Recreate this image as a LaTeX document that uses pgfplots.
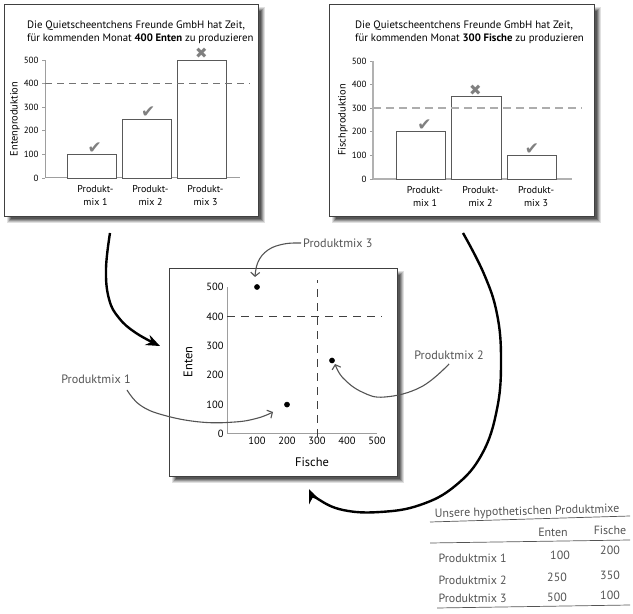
\documentclass[border=0pt]{standalone}
\usepackage{fontspec}
\setmainfont{PT Sans}
\newfontfamily\sym{DejaVu Sans}
\newfontfamily\hand{PT Sans}
\usepackage{pgfplots}
\pgfplotsset{compat=1.18}
\usetikzlibrary{arrows.meta}
\definecolor{axgray}{gray}{0.62}
\definecolor{bargray}{gray}{0.35}
\definecolor{dashgray}{gray}{0.45}
\definecolor{markgray}{gray}{0.5}
\definecolor{handgray}{gray}{0.33}
\definecolor{framegray}{gray}{0.25}

\newcommand\shadowframe[4]{%
  \foreach \d/\o in {-2/0.12,-1/0.15,0/0.2,1/0.25,2/0.25}{%
    \fill[black,opacity=\o] (#1+5+\d,#4-5+\d) rectangle (#3+5-\d,#2-5-\d);}
  \fill[white] (#1,#4) rectangle (#3,#2);
  \draw[framegray,line width=0.8bp] (#1,#4) rectangle (#3,#2);
}

\pgfplotsset{
  barpanel/.style={
    scale only axis, anchor=south west,
    ymin=0, ymax=500,
    axis x line*=bottom, axis y line*=left,
    axis line style={axgray,line width=1bp,-},
    ytick={0,100,...,500},
    xtick={1,2,3},
    xticklabels={{Produkt-\\mix 1},{Produkt-\\mix 2},{Produkt-\\mix 3}},
    xticklabel style={align=center,font=\fontsize{10}{12.5}\selectfont,xshift=4bp,yshift=-1bp},
    yticklabel style={font=\fontsize{9}{10}\selectfont},
    /pgf/number format/assume math mode=true,
    tick align=outside,
    major tick length=3bp,
    tick style={axgray,line width=0.8bp},
    x tick style={draw=none},
    ylabel style={font=\fontsize{10.5}{12}\selectfont},
    clip=false,
  },
}
\tikzset{mk/.style={markgray,anchor=south,inner sep=1bp}}
\newcommand\chk{{\sym\fontsize{17}{17}\selectfont ✔}}
\newcommand\crs{{\sym\fontsize{15}{15}\selectfont ✖}}

\begin{document}
\begin{tikzpicture}[x=1bp,y=1bp]
\useasboundingbox (0,0) rectangle (633,614);
% frames
\shadowframe{4}{610}{258}{398}
\shadowframe{329}{610}{594}{398}
\shadowframe{169}{346}{397}{138}

% titles
\begin{scope}[every node/.style={anchor=base west,font=\fontsize{10.8}{12}\selectfont,inner sep=0}]
\node at (27,585) {Die Quietscheentchens Freunde GmbH hat Zeit,};
\node at (27,572) {für kommenden Monat \textbf{400 Enten} zu produzieren};
\node at (355,585) {Die Quietscheentchens Freunde GmbH hat Zeit,};
\node at (355,572) {für kommenden Monat \textbf{300 Fische} zu produzieren};
\end{scope}

% panel 1
\begin{axis}[barpanel, at={(45bp,436bp)}, width=195bp, height=118bp,
  xmin=0.155, xmax=3.7,
  ylabel={Entenproduktion},
  ylabel style={at={(axis description cs:-0.154,0.5)},anchor=center,rotate=0}]
\addplot[ybar, bar width=0.89, fill=white, draw=bargray, line width=0.8bp]
  coordinates {(1,100) (2,250) (3,500)};
\addplot[dashgray, line width=0.9bp, dash pattern=on 7bp off 5bp]
  coordinates {(0.155,400) (3.88,400)};
\node[mk] at (axis cs:1.06,100) {\chk};
\node[mk] at (axis cs:2.03,250) {\chk};
\node[mk] at (axis cs:3,500) {\crs};
\end{axis}

% panel 2
\begin{axis}[barpanel, at={(373bp,435bp)}, width=199bp, height=118bp,
  xmin=0.135, xmax=3.72,
  ylabel={Fischproduktion},
  ylabel style={at={(axis description cs:-0.151,0.5)},anchor=center,rotate=0},
  axis line style={axgray!80,line width=1.6bp,-}]
\addplot[ybar, bar width=0.89, fill=white, draw=bargray, line width=0.8bp]
  coordinates {(1,200) (2,350) (3,100)};
\addplot[axgray!85, line width=1.8bp, dash pattern=on 8bp off 5bp]
  coordinates {(0.135,300) (3.9,300)};
\node[mk] at (axis cs:1.06,200) {\chk};
\node[mk] at (axis cs:1.98,350) {\crs};
\node[mk] at (axis cs:3.0,100) {\chk};
\end{axis}

% scatter
\begin{axis}[scale only axis, anchor=south west, at={(227bp,180bp)},
  width=150bp, height=147bp,
  xmin=0, xmax=500, ymin=0, ymax=500,
  axis x line*=bottom, axis y line*=left,
  axis line style={axgray,line width=1bp,-},
  xtick={100,200,...,500}, ytick={0,100,...,500},
  major tick length=0,
  /pgf/number format/assume math mode=true,
  ticklabel style={font=\fontsize{10.5}{11}\selectfont},
  xlabel={Fische}, ylabel={Enten},
  label style={font=\fontsize{12.5}{13}\selectfont},
  xlabel style={at={(axis description cs:0.567,-0.19)},anchor=center},
  ylabel style={at={(axis description cs:-0.26,0.49)},anchor=center,rotate=0},
  clip=false]
\addplot[black!75, line width=0.9bp, dash pattern=on 8bp off 6bp]
  coordinates {(0,400) (517,400)};
\addplot[black!75, line width=0.9bp, dash pattern=on 8bp off 6bp]
  coordinates {(300,-10) (300,524)};
\addplot[only marks, mark=*, mark size=2.6bp, black]
  coordinates {(100,500) (200,100) (350,250)};
\end{axis}

% big arrows
\draw[line width=2.4bp, -{Stealth[length=14bp,width=11bp]}]
  plot[smooth, tension=0.7] coordinates {(110,381) (106,345) (109,315) (119,296) (136,281) (160,268)};
\draw[line width=2.4bp, -{Stealth[length=14bp,width=11bp]}]
  plot[smooth, tension=0.7] coordinates {(463,381) (484,340) (497,300) (501,254) (497,205) (482,160) (455,128) (420,109) (380,102) (343,104) (318,115) (309,125)};

% annotation curves
\draw[handgray, line width=1.1bp, -{Straight Barb[length=4bp,width=9bp]}]
  plot[smooth, tension=0.7] coordinates {(127,224) (140,209) (163,199) (200,192) (235,192) (258,196) (273,202)};
\draw[handgray, line width=1.1bp, -{Straight Barb[length=4bp,width=9bp]}]
  plot[smooth, tension=0.7] coordinates {(449,250) (421,227) (385,217) (362,222) (343,236) (335,250)};
\draw[handgray, line width=1.1bp, -{Straight Barb[length=4bp,width=9bp]}]
  plot[smooth, tension=0.7] coordinates {(301,371) (284,370) (268,364) (258,352) (255,337)};

\begin{scope}[every node/.style={handgray,font=\hand\fontsize{12.2}{13}\selectfont,inner sep=0}]
\node[anchor=west] at (303,371) {Produktmix 3};
\node at (449,259) {Produktmix 2};
\node at (96,235) {Produktmix 1};
\end{scope}

% table
\begin{scope}[handgray, every node/.style={font=\hand\fontsize{12}{13}\selectfont}]
\node[rotate=1.5] at (527,102) {Unsere hypothetischen Produktmixe};
\draw[line width=0.7bp] (430,92) -- (630,98);
\node at (553,82) {Enten};
\node at (610,84) {Fische};
\draw[line width=0.7bp] (430,71) -- (630,74);
\node[anchor=west] at (435,56) {Produktmix 1};
\node[anchor=west] at (435,34) {Produktmix 2};
\node[anchor=west] at (435,16) {Produktmix 3};
\node at (560,59) {100};
\node at (610,64) {200};
\node at (557,37) {250};
\node at (610,39) {350};
\node at (557,17) {500};
\node at (610,19) {100};
\draw[line width=0.7bp] (437,6) -- (630,9);
\end{scope}
\end{tikzpicture}
\end{document}
